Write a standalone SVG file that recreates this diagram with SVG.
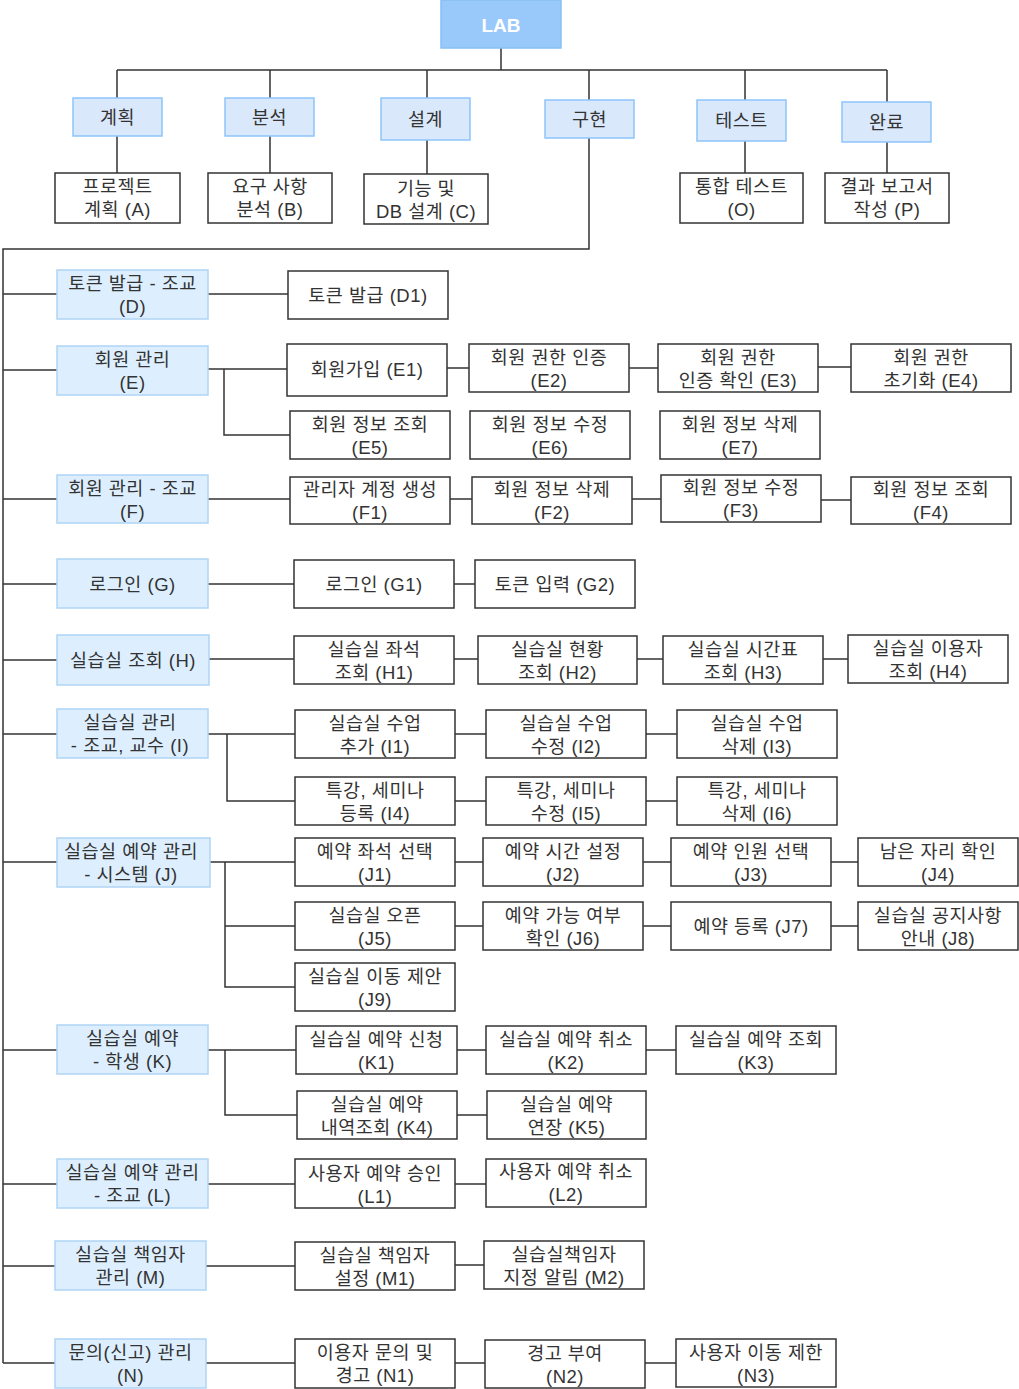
<svg xmlns="http://www.w3.org/2000/svg" width="1019" height="1389" viewBox="0 0 1019 1389">
<style>
.t{font-family:"Liberation Sans","Noto Sans CJK KR",Arial,sans-serif;font-size:18.5px;letter-spacing:0.5px;fill:#333;text-anchor:middle;dominant-baseline:central}
.lab{fill:#99c9fb;stroke:#88bff5;stroke-width:1.5}
.labt{font-family:"Liberation Sans","Noto Sans CJK KR",Arial,sans-serif;font-size:19px;font-weight:bold;fill:#fff;text-anchor:middle;dominant-baseline:central}
.b{fill:#dae8fc;stroke:#8ec5fb;stroke-width:1.5}
.l{fill:#ddefff;stroke:#afd5f5;stroke-width:1.5}
.w{fill:#fff;stroke:#333;stroke-width:1.5}
.c{fill:none;stroke:#333;stroke-width:1.5}
</style>
<rect width="1019" height="1389" fill="#fff"/>
<g id="connectors" class="c">
<path d="M501 48V70M117 70H887M117 70V98M270 70V98M427 70V98M589 70V100M745 70V100M887 70V102"/>
<path d="M117 136V173M270 136V173M427 140V174M745 141V173M887 142V173"/>
<path d="M589 138V249H3V1363"/>
<path d="M3 294H57M3 370H57M3 499H57M3 584H57M3 660H57M3 734H57M3 862H57M3 1050H57M3 1184H57M3 1266H55M3 1363H55"/>
<path d="M208 294H288"/>
<path d="M208 369H287M224 369V435H290M447 368H469M629 368H658M818 367H851"/>
<path d="M208 499H290M450 499H472M632 499H661M821 500H851"/>
<path d="M208 584H294M454 584H475"/>
<path d="M209 659H294M454 659H478M637 659H663M823 659H848"/>
<path d="M208 734H295M227 734V801H295M455 734H486M646 734H677M455 801H486M646 801H677"/>
<path d="M210 862H295M225 862V987H295M225 926H295M455 862H483M643 862H671M831 862H858M455 926H483M643 926H671M831 926H858"/>
<path d="M208 1050H296M225 1050V1115H297M457 1050H486M646 1050H676M457 1115H487"/>
<path d="M208 1184H295M455 1184H486"/>
<path d="M206 1266H295M455 1265H484"/>
<path d="M206 1363H295M455 1363H485M645 1363H676"/>
</g>
<g id="lab"><rect class="lab" x="441" y="0" width="120" height="48"/><text class="labt" x="501" y="25">LAB</text></g>
<g id="plan"><rect class="b" x="73" y="98" width="89" height="38"/><text class="t" x="117.5" y="117">계획</text></g>
<g id="analysis"><rect class="b" x="225" y="98" width="89" height="38"/><text class="t" x="269.5" y="117">분석</text></g>
<g id="design"><rect class="b" x="381" y="98" width="89" height="42"/><text class="t" x="425.5" y="119">설계</text></g>
<g id="impl"><rect class="b" x="545" y="100" width="89" height="38"/><text class="t" x="589.5" y="119">구현</text></g>
<g id="test"><rect class="b" x="697" y="100" width="89" height="41"/><text class="t" x="741.5" y="120.5">테스트</text></g>
<g id="done"><rect class="b" x="842" y="102" width="89" height="40"/><text class="t" x="886.5" y="122">완료</text></g>
<g id="A"><rect class="w" x="55" y="173" width="125" height="50"/><text class="t"><tspan x="117.5" y="186">프로젝트</tspan><tspan x="117.5" y="209">계획 (A)</tspan></text></g>
<g id="B"><rect class="w" x="208" y="173" width="124" height="50"/><text class="t"><tspan x="270" y="186">요구 사항</tspan><tspan x="270" y="209">분석 (B)</tspan></text></g>
<g id="C"><rect class="w" x="364" y="174" width="124" height="50"/><text class="t"><tspan x="426" y="188">기능 및</tspan><tspan x="426" y="211">DB 설계 (C)</tspan></text></g>
<g id="O"><rect class="w" x="680" y="173" width="123" height="50"/><text class="t"><tspan x="741.5" y="186">통합 테스트</tspan><tspan x="741.5" y="209">(O)</tspan></text></g>
<g id="P"><rect class="w" x="825" y="173" width="124" height="50"/><text class="t"><tspan x="887" y="186">결과 보고서</tspan><tspan x="887" y="209">작성 (P)</tspan></text></g>
<g id="D"><rect class="l" x="57" y="270" width="151" height="49"/><text class="t"><tspan x="132.5" y="283">토큰 발급 - 조교</tspan><tspan x="132.5" y="306">(D)</tspan></text></g>
<g id="E"><rect class="l" x="57" y="346" width="151" height="49"/><text class="t"><tspan x="132.5" y="359">회원 관리</tspan><tspan x="132.5" y="382">(E)</tspan></text></g>
<g id="F"><rect class="l" x="57" y="475" width="151" height="48"/><text class="t"><tspan x="132.5" y="488">회원 관리 - 조교</tspan><tspan x="132.5" y="511">(F)</tspan></text></g>
<g id="G"><rect class="l" x="57" y="559" width="151" height="49"/><text class="t" x="132.5" y="584">로그인 (G)</text></g>
<g id="H"><rect class="l" x="57" y="635" width="152" height="50"/><text class="t" x="133" y="660">실습실 조회 (H)</text></g>
<g id="I"><rect class="l" x="57" y="709" width="151" height="49"/><text class="t"><tspan x="130" y="722">실습실 관리</tspan><tspan x="130" y="745">- 조교, 교수 (I)</tspan></text></g>
<g id="J"><rect class="l" x="57" y="838" width="153" height="49"/><text class="t"><tspan x="131" y="851">실습실 예약 관리</tspan><tspan x="131" y="874">- 시스템 (J)</tspan></text></g>
<g id="K"><rect class="l" x="57" y="1025" width="151" height="49"/><text class="t"><tspan x="132.5" y="1038">실습실 예약</tspan><tspan x="132.5" y="1061">- 학생 (K)</tspan></text></g>
<g id="L"><rect class="l" x="57" y="1159" width="151" height="49"/><text class="t"><tspan x="132.5" y="1172">실습실 예약 관리</tspan><tspan x="132.5" y="1195">- 조교 (L)</tspan></text></g>
<g id="M"><rect class="l" x="55" y="1241" width="151" height="49"/><text class="t"><tspan x="130.5" y="1254">실습실 책임자</tspan><tspan x="130.5" y="1277">관리 (M)</tspan></text></g>
<g id="N"><rect class="l" x="55" y="1339" width="151" height="49"/><text class="t"><tspan x="130.5" y="1352">문의(신고) 관리</tspan><tspan x="130.5" y="1375">(N)</tspan></text></g>
<g id="D1"><rect class="w" x="288" y="271" width="160" height="48"/><text class="t" x="368" y="295">토큰 발급 (D1)</text></g>
<g id="E1"><rect class="w" x="287" y="344" width="160" height="52"/><text class="t" x="367" y="369">회원가입 (E1)</text></g>
<g id="E2"><rect class="w" x="469" y="344" width="160" height="48"/><text class="t"><tspan x="549" y="357">회원 권한 인증</tspan><tspan x="549" y="380">(E2)</tspan></text></g>
<g id="E3"><rect class="w" x="658" y="344" width="160" height="48"/><text class="t"><tspan x="738" y="357">회원 권한</tspan><tspan x="738" y="380">인증 확인 (E3)</tspan></text></g>
<g id="E4"><rect class="w" x="851" y="344" width="160" height="48"/><text class="t"><tspan x="931" y="357">회원 권한</tspan><tspan x="931" y="380">초기화 (E4)</tspan></text></g>
<g id="E5"><rect class="w" x="290" y="411" width="160" height="48"/><text class="t"><tspan x="370" y="424">회원 정보 조회</tspan><tspan x="370" y="447">(E5)</tspan></text></g>
<g id="E6"><rect class="w" x="470" y="411" width="160" height="48"/><text class="t"><tspan x="550" y="424">회원 정보 수정</tspan><tspan x="550" y="447">(E6)</tspan></text></g>
<g id="E7"><rect class="w" x="660" y="411" width="160" height="48"/><text class="t"><tspan x="740" y="424">회원 정보 삭제</tspan><tspan x="740" y="447">(E7)</tspan></text></g>
<g id="F1"><rect class="w" x="290" y="477" width="160" height="47"/><text class="t"><tspan x="370" y="489">관리자 계정 생성</tspan><tspan x="370" y="512">(F1)</tspan></text></g>
<g id="F2"><rect class="w" x="472" y="477" width="160" height="47"/><text class="t"><tspan x="552" y="489">회원 정보 삭제</tspan><tspan x="552" y="512">(F2)</tspan></text></g>
<g id="F3"><rect class="w" x="661" y="475" width="160" height="47"/><text class="t"><tspan x="741" y="487">회원 정보 수정</tspan><tspan x="741" y="510">(F3)</tspan></text></g>
<g id="F4"><rect class="w" x="851" y="477" width="160" height="47"/><text class="t"><tspan x="931" y="489">회원 정보 조회</tspan><tspan x="931" y="512">(F4)</tspan></text></g>
<g id="G1"><rect class="w" x="294" y="560" width="160" height="48"/><text class="t" x="374" y="584">로그인 (G1)</text></g>
<g id="G2"><rect class="w" x="475" y="560" width="160" height="48"/><text class="t" x="555" y="584">토큰 입력 (G2)</text></g>
<g id="H1"><rect class="w" x="294" y="636" width="160" height="48"/><text class="t"><tspan x="374" y="649">실습실 좌석</tspan><tspan x="374" y="672">조회 (H1)</tspan></text></g>
<g id="H2"><rect class="w" x="478" y="636" width="159" height="48"/><text class="t"><tspan x="557.5" y="649">실습실 현황</tspan><tspan x="557.5" y="672">조회 (H2)</tspan></text></g>
<g id="H3"><rect class="w" x="663" y="636" width="160" height="48"/><text class="t"><tspan x="743" y="649">실습실 시간표</tspan><tspan x="743" y="672">조회 (H3)</tspan></text></g>
<g id="H4"><rect class="w" x="848" y="635" width="160" height="48"/><text class="t"><tspan x="928" y="648">실습실 이용자</tspan><tspan x="928" y="671">조회 (H4)</tspan></text></g>
<g id="I1"><rect class="w" x="295" y="710" width="160" height="48"/><text class="t"><tspan x="375" y="723">실습실 수업</tspan><tspan x="375" y="746">추가 (I1)</tspan></text></g>
<g id="I2"><rect class="w" x="486" y="710" width="160" height="48"/><text class="t"><tspan x="566" y="723">실습실 수업</tspan><tspan x="566" y="746">수정 (I2)</tspan></text></g>
<g id="I3"><rect class="w" x="677" y="710" width="160" height="48"/><text class="t"><tspan x="757" y="723">실습실 수업</tspan><tspan x="757" y="746">삭제 (I3)</tspan></text></g>
<g id="I4"><rect class="w" x="295" y="777" width="160" height="48"/><text class="t"><tspan x="375" y="790">특강, 세미나</tspan><tspan x="375" y="813">등록 (I4)</tspan></text></g>
<g id="I5"><rect class="w" x="486" y="777" width="160" height="48"/><text class="t"><tspan x="566" y="790">특강, 세미나</tspan><tspan x="566" y="813">수정 (I5)</tspan></text></g>
<g id="I6"><rect class="w" x="677" y="777" width="160" height="48"/><text class="t"><tspan x="757" y="790">특강, 세미나</tspan><tspan x="757" y="813">삭제 (I6)</tspan></text></g>
<g id="J1"><rect class="w" x="295" y="838" width="160" height="48"/><text class="t"><tspan x="375" y="851">예약 좌석 선택</tspan><tspan x="375" y="874">(J1)</tspan></text></g>
<g id="J2"><rect class="w" x="483" y="838" width="160" height="48"/><text class="t"><tspan x="563" y="851">예약 시간 설정</tspan><tspan x="563" y="874">(J2)</tspan></text></g>
<g id="J3"><rect class="w" x="671" y="838" width="160" height="48"/><text class="t"><tspan x="751" y="851">예약 인원 선택</tspan><tspan x="751" y="874">(J3)</tspan></text></g>
<g id="J4"><rect class="w" x="858" y="838" width="160" height="48"/><text class="t"><tspan x="938" y="851">남은 자리 확인</tspan><tspan x="938" y="874">(J4)</tspan></text></g>
<g id="J5"><rect class="w" x="295" y="902" width="160" height="48"/><text class="t"><tspan x="375" y="915">실습실 오픈</tspan><tspan x="375" y="938">(J5)</tspan></text></g>
<g id="J6"><rect class="w" x="483" y="902" width="160" height="48"/><text class="t"><tspan x="563" y="915">예약 가능 여부</tspan><tspan x="563" y="938">확인 (J6)</tspan></text></g>
<g id="J7"><rect class="w" x="671" y="902" width="160" height="48"/><text class="t" x="751" y="926">예약 등록 (J7)</text></g>
<g id="J8"><rect class="w" x="858" y="902" width="160" height="48"/><text class="t"><tspan x="938" y="915">실습실 공지사항</tspan><tspan x="938" y="938">안내 (J8)</tspan></text></g>
<g id="J9"><rect class="w" x="295" y="963" width="160" height="48"/><text class="t"><tspan x="375" y="976">실습실 이동 제안</tspan><tspan x="375" y="999">(J9)</tspan></text></g>
<g id="K1"><rect class="w" x="296" y="1026" width="161" height="48"/><text class="t"><tspan x="376.5" y="1039">실습실 예약 신청</tspan><tspan x="376.5" y="1062">(K1)</tspan></text></g>
<g id="K2"><rect class="w" x="486" y="1026" width="160" height="48"/><text class="t"><tspan x="566" y="1039">실습실 예약 취소</tspan><tspan x="566" y="1062">(K2)</tspan></text></g>
<g id="K3"><rect class="w" x="676" y="1026" width="160" height="48"/><text class="t"><tspan x="756" y="1039">실습실 예약 조회</tspan><tspan x="756" y="1062">(K3)</tspan></text></g>
<g id="K4"><rect class="w" x="297" y="1091" width="160" height="48"/><text class="t"><tspan x="377" y="1104">실습실 예약</tspan><tspan x="377" y="1127">내역조회 (K4)</tspan></text></g>
<g id="K5"><rect class="w" x="487" y="1091" width="159" height="48"/><text class="t"><tspan x="566.5" y="1104">실습실 예약</tspan><tspan x="566.5" y="1127">연장 (K5)</tspan></text></g>
<g id="L1"><rect class="w" x="295" y="1159" width="160" height="49"/><text class="t"><tspan x="375" y="1173">사용자 예약 승인</tspan><tspan x="375" y="1196">(L1)</tspan></text></g>
<g id="L2"><rect class="w" x="486" y="1159" width="160" height="48"/><text class="t"><tspan x="566" y="1171">사용자 예약 취소</tspan><tspan x="566" y="1194">(L2)</tspan></text></g>
<g id="M1"><rect class="w" x="295" y="1242" width="160" height="48"/><text class="t"><tspan x="375" y="1255">실습실 책임자</tspan><tspan x="375" y="1278">설정 (M1)</tspan></text></g>
<g id="M2"><rect class="w" x="484" y="1241" width="160" height="48"/><text class="t"><tspan x="564" y="1254">실습실책임자</tspan><tspan x="564" y="1277">지정 알림 (M2)</tspan></text></g>
<g id="N1"><rect class="w" x="295" y="1339" width="160" height="49"/><text class="t"><tspan x="375" y="1352">이용자 문의 및</tspan><tspan x="375" y="1375">경고 (N1)</tspan></text></g>
<g id="N2"><rect class="w" x="485" y="1340" width="160" height="48"/><text class="t"><tspan x="565" y="1353">경고 부여</tspan><tspan x="565" y="1376">(N2)</tspan></text></g>
<g id="N3"><rect class="w" x="676" y="1339" width="160" height="48"/><text class="t"><tspan x="756" y="1352">사용자 이동 제한</tspan><tspan x="756" y="1375">(N3)</tspan></text></g>
</svg>
